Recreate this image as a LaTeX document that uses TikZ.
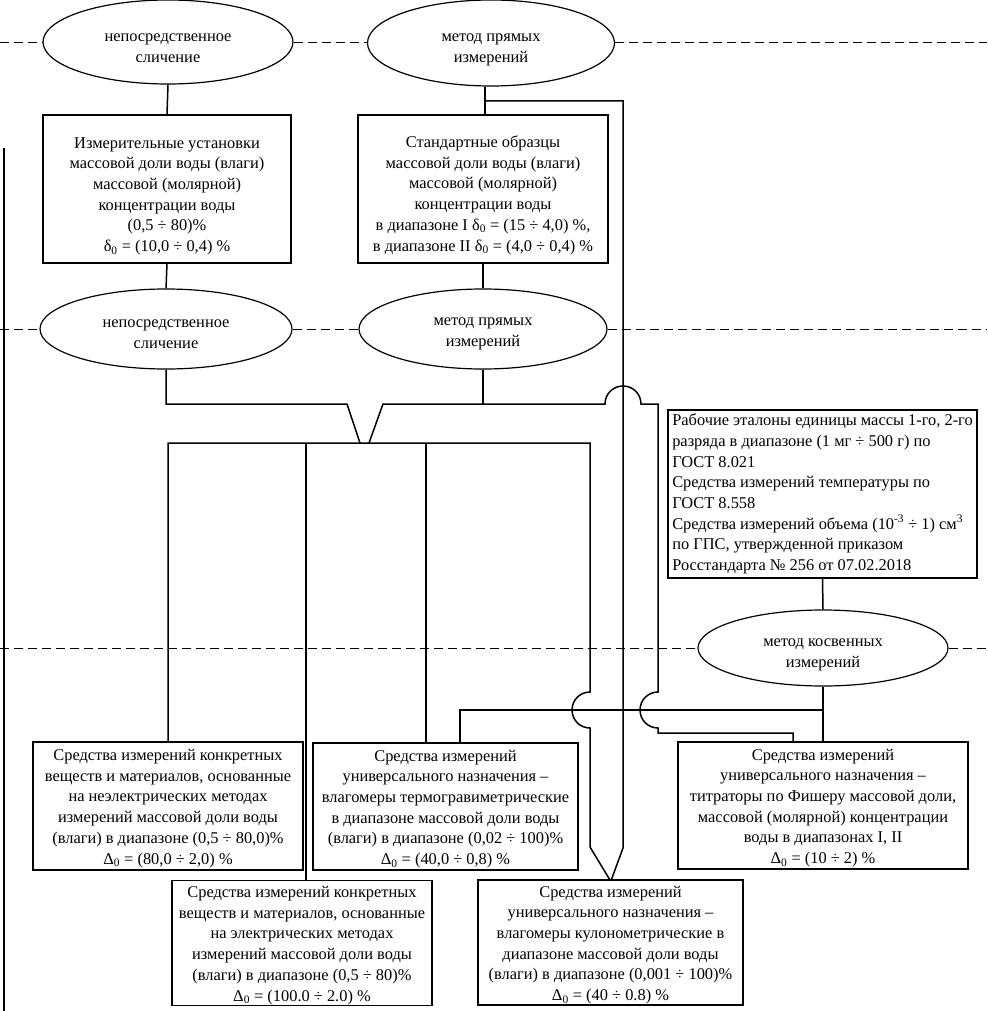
\documentclass[tikz,border=0pt]{standalone}
\usepackage{fontspec}
\setmainfont{Liberation Serif}
\usetikzlibrary{shapes.geometric}
\newcommand\tpad[1]{\rule{0pt}{#1}}
\begin{document}
\begin{tikzpicture}[x=1pt,y=-1pt,
  txt/.style={font=\fontsize{16.4}{20.7}\selectfont},
  box/.style={txt, draw, line width=1.5pt, align=center, inner sep=1pt},
  oval/.style={txt, draw, ellipse, line width=1.2pt, align=center, inner sep=0pt},
  conn/.style={line width=1.5pt},
  dashline/.style={line width=0.9pt, dash pattern=on 9pt off 5pt}]
\useasboundingbox (0,0) rectangle (987,1011);

% ---- nodes ----
\node[oval, minimum width=250pt, minimum height=84pt] (e1) at (168,42) {\tpad{20pt}непосредственное\\сличение};
\node[oval, minimum width=247pt, minimum height=86pt] (e2) at (491,43) {\tpad{21pt}метод прямых\\измерений};

\node[box, minimum width=248pt, minimum height=148pt] (bA) at (167,189)
  {\tpad{25pt}Измерительные установки\\массовой доли воды (влаги)\\массовой (молярной)\\концентрации воды\\(0,5 ÷ 80)\%\\δ\textsubscript{0} = (10,0 ÷ 0,4) \%};
\node[box, minimum width=250pt, minimum height=148pt] (bB) at (483,189)
  {\tpad{24pt}Стандартные образцы\\массовой доли воды (влаги)\\массовой (молярной)\\концентрации воды\\в диапазоне I δ\textsubscript{0} = (15 ÷ 4,0) \%,\\в диапазоне II δ\textsubscript{0} = (4,0 ÷ 0,4) \%};

\node[oval, minimum width=252pt, minimum height=80pt] (e3) at (166,329) {\tpad{18pt}непосредственное\\сличение};
\node[oval, minimum width=248pt, minimum height=80pt] (e4) at (483,329) {\tpad{18pt}метод прямых\\измерений};

\node[box, align=left, minimum width=309pt, minimum height=168pt, inner sep=1.5pt] (bC) at (822.5,494)
  {Рабочие эталоны единицы массы 1-го, 2-го\\разряда в диапазоне (1 мг ÷ 500 г) по\\ГОСТ 8.021\\Средства измерений температуры по\\ГОСТ 8.558\\Средства измерений объема (10\textsuperscript{-3} ÷ 1) см\textsuperscript{3}\\по ГПС, утвержденной приказом\\Росстандарта № 256 от 07.02.2018};

\node[oval, minimum width=250pt, minimum height=76pt] (e5) at (823,648) {\tpad{22pt}метод косвенных\\измерений};

\node[box, minimum width=270pt, minimum height=128pt] (bD) at (168,806)
  {\tpad{16pt}Средства измерений конкретных\\веществ и материалов, основанные\\на неэлектрических методах\\измерений массовой доли воды\\(влаги) в диапазоне (0,5 ÷ 80,0)\%\\Δ\textsubscript{0} = (80,0 ÷ 2,0) \%};
\node[box, minimum width=265pt, minimum height=127pt] (bE) at (445.5,806.5)
  {\tpad{16pt}Средства измерений\\универсального назначения –\\влагомеры термогравиметрические\\в диапазоне массовой доли воды\\(влаги) в диапазоне (0,02 ÷ 100)\%\\Δ\textsubscript{0} = (40,0 ÷ 0,8) \%};
\node[box, minimum width=290pt, minimum height=127pt] (bF) at (823,805.5)
  {\tpad{16pt}Средства измерений\\универсального назначения –\\титраторы по Фишеру массовой доли,\\массовой (молярной) концентрации\\воды в диапазонах I, II\\Δ\textsubscript{0} = (10 ÷ 2) \%};
\node[box, minimum width=260pt, minimum height=124pt] (bG) at (302,943)
  {\tpad{16pt}Средства измерений конкретных\\веществ и материалов, основанные\\на электрических методах\\измерений массовой доли воды\\(влаги) в диапазоне (0,5 ÷ 80)\%\\Δ\textsubscript{0} = (100.0 ÷ 2.0) \%};
\node[box, minimum width=265pt, minimum height=125pt] (bH) at (610.5,942.5)
  {\tpad{16pt}Средства измерений\\универсального назначения –\\влагомеры кулонометрические в\\диапазоне массовой доли воды\\(влаги) в диапазоне (0,001 ÷ 100)\%\\Δ\textsubscript{0} = (40 ÷ 0.8) \%};

% ---- dashed level lines ----
\coordinate (L1) at (0,42);   \coordinate (R1) at (987,42);
\coordinate (L2) at (0,329);  \coordinate (R2) at (987,329);
\coordinate (L3) at (0,648);  \coordinate (R3) at (987,648);
\draw[dashline] (L1) -- (e1.west) (e1.east) -- (e2.west |- L1) (e2.east |- L1) -- (R1);
\draw[dashline] (L2) -- (e3.west) (e3.east) -- (e4.west) (e4.east) -- (R2);
\draw[dashline] (L3) -- (e5.west) (e5.east) -- (R3);

% ---- junction coordinates ----
\coordinate (jD) at (168,443);
\coordinate (jG) at (306,443);
\coordinate (jE) at (426,443);
\coordinate (jH) at (590,443);
\coordinate (tB) at (485,101);
\coordinate (tR) at (623,101);
\coordinate (k4) at (483,404);
\coordinate (k3) at (166,404);
\coordinate (kF) at (823,710);
\coordinate (kE) at (460,710);

% ---- connectors ----
\draw[conn] (e1.south) -- (bA.north);
\draw[conn] (bA.south) -- (e3.north);
\draw[conn] (bB.north -| tB) -- (e2.south -| tB);
\draw[conn] (bB.south) -- (e4.north);

% from top "метод прямых" to bottom right V
\draw[conn] (tB) -- (tR) -- (623,848) -- ([xshift=1pt]bH.north);

% left funnel leg
\draw[conn] (e3.south) -- (k3) -- (347,404) -- (360,443);
% right funnel leg and branch with hump over x=623
\draw[conn] (e4.south) -- (k4);
\draw[conn] (369,443) -- (383,404) -- (605,404)
  .. controls (605,394) and (613,386) .. (623,386)
  .. controls (633,386) and (641,394) .. (641,404)
  -- (658,404) -- (658,692)
  .. controls (648,692) and (640,700) .. (640,710)
  .. controls (640,720) and (648,728) .. (658,728)
  -- (658,733) -- (793,733) -- (bF.north -| 793,0);

% bar
\draw[conn] (bD.north) -- (jD) -- (jH) -- (590,692)
  .. controls (580,692) and (572,700) .. (572,710)
  .. controls (572,720) and (580,728) .. (590,728)
  -- (590,847) -- ([xshift=-1pt]bH.north);
\draw[conn] (jG) -- (jG |- bG.north);
\draw[conn] (jE) -- (jE |- bE.north);

% indirect method
\draw[conn] (bC.south) -- (e5.north);
\draw[conn] (e5.south) -- (bF.north);
\draw[conn] (kF) -- (kE) -- (kE |- bE.north);

% stray left vertical line
\coordinate (sv1) at (4,148);
\coordinate (sv2) at (4,1011);
\draw[conn] (sv1) -- (sv2);
\end{tikzpicture}
\end{document}
